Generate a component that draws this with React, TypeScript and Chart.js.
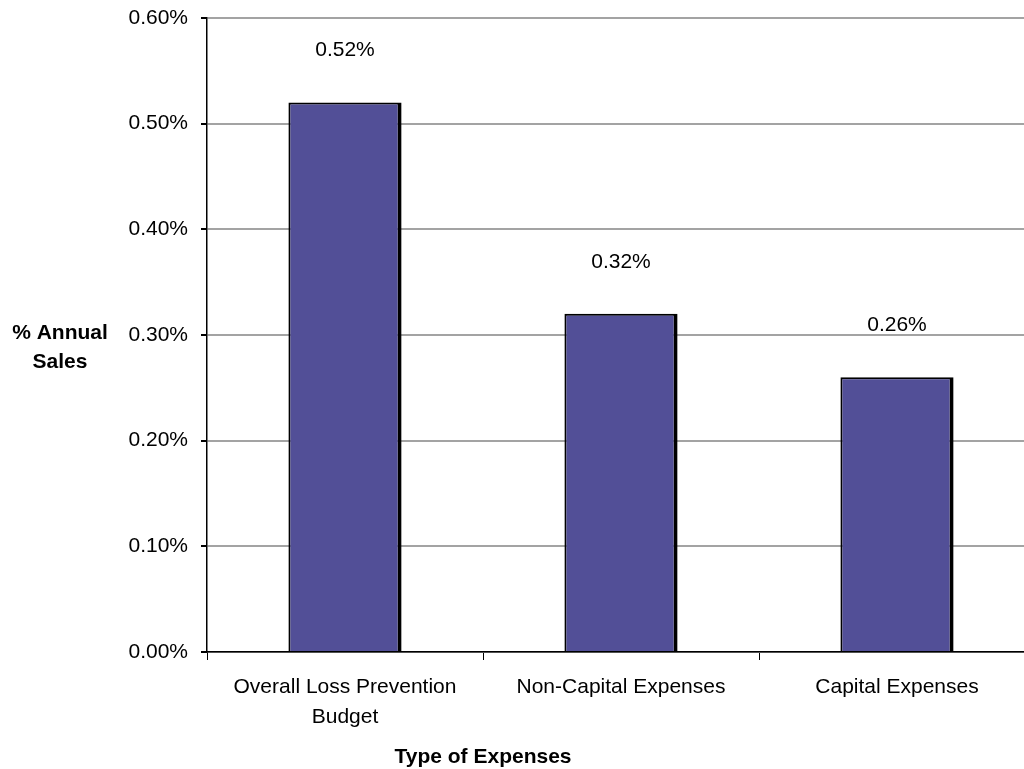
import React, { useEffect, useRef } from "react";
import { Chart, registerables } from "chart.js";

Chart.register(...registerables);

// Spending on loss prevention, as a share of annual sales (%)
const categories: (string | string[])[] = [
  ["Overall Loss Prevention", "Budget"],
  "Non-Capital Expenses",
  "Capital Expenses",
];
const shareOfSales = [0.52, 0.32, 0.26];
const valueLabels = ["0.52%", "0.32%", "0.26%"];
const yTitleLines = ["% Annual", "Sales"];
const xTitle = "Type of Expenses";

const FONT = '"Liberation Sans", Arial, Helvetica, sans-serif';
const W = 1035;
const H = 769;

const valueLabelPlugin = {
  id: "valueLabels",
  afterDatasetsDraw(chart: any) {
    const ctx = chart.ctx;
    const meta = chart.getDatasetMeta(0);
    ctx.save();
    ctx.font = `21px ${FONT}`;
    ctx.fillStyle = "#000";
    ctx.textAlign = "center";
    ctx.textBaseline = "middle";
    meta.data.forEach((bar: any, i: number) => {
      ctx.fillText(valueLabels[i], bar.x, bar.y - 52);
    });
    ctx.restore();
  },
};

const axisTitlePlugin = {
  id: "axisTitles",
  afterDraw(chart: any) {
    const ctx = chart.ctx;
    const area = chart.chartArea;
    const xScale = chart.scales.x;
    ctx.save();
    ctx.font = `bold 21px ${FONT}`;
    ctx.fillStyle = "#000";
    ctx.textAlign = "center";
    ctx.textBaseline = "middle";
    const midY = (area.top + area.bottom) / 2;
    ctx.fillText(yTitleLines[0], 60, midY - 2);
    ctx.fillText(yTitleLines[1], 60, midY + 27);
    ctx.fillText(xTitle, xScale.getPixelForValue(0.5), area.bottom + 105);
    ctx.restore();
  },
};

export default function App() {
  const canvasRef = useRef<HTMLCanvasElement | null>(null);

  useEffect(() => {
    if (!canvasRef.current) return;
    const chart = new Chart(canvasRef.current, {
      type: "bar",
      data: {
        labels: categories,
        datasets: [
          {
            data: shareOfSales,
            backgroundColor: "#524F97",
            borderColor: "#000",
            borderWidth: { top: 2, left: 2, right: 4, bottom: 0 },
            borderSkipped: false,
            categoryPercentage: 1,
            barPercentage: 0.41,
          },
        ],
      },
      options: {
        responsive: false,
        animation: false,
        devicePixelRatio: 1,
        layout: { padding: { top: 18, left: 0, right: 0, bottom: 0 } },
        plugins: {
          legend: { display: false },
          tooltip: { enabled: false },
        },
        scales: {
          x: {
            offset: true,
            grid: {
              display: true,
              offset: true,
              drawOnChartArea: false,
              drawTicks: true,
              tickLength: 8,
              tickColor: "#000",
              color: "#000",
              lineWidth: 1,
            },
            border: { display: true, color: "#000", width: 1.5 },
            ticks: {
              color: "#000",
              padding: 12,
              maxRotation: 0,
              autoSkip: false,
              font: { family: FONT, size: 21, lineHeight: 1.43 },
            },
            afterFit(scale: any) {
              scale.height = 117;
              scale.paddingLeft = 0;
              scale.paddingRight = 0;
            },
          },
          y: {
            min: 0,
            max: 0.6,
            grid: {
              color: "#a3a3a3",
              lineWidth: 2,
              tickLength: 6,
              tickColor: "#000",
              drawTicks: true,
            },
            border: { display: true, color: "#000", width: 1.5 },
            ticks: {
              stepSize: 0.1,
              color: "#000",
              padding: 13,
              font: { family: FONT, size: 21 },
              callback: (v: any) => `${Number(v).toFixed(2)}%`,
            },
            afterFit(scale: any) {
              scale.width = 207;
              scale.paddingTop = 0;
              scale.paddingBottom = 0;
            },
          },
        },
      },
      plugins: [valueLabelPlugin, axisTitlePlugin],
    });
    return () => chart.destroy();
  }, []);

  return (
    <div
      style={{
        position: "absolute",
        left: 0,
        top: 0,
        width: 1024,
        height: 769,
        overflow: "hidden",
        background: "#fff",
      }}
    >
      <canvas
        ref={canvasRef}
        width={W}
        height={H}
        style={{ display: "block", width: W, height: H }}
      />
    </div>
  );
}
